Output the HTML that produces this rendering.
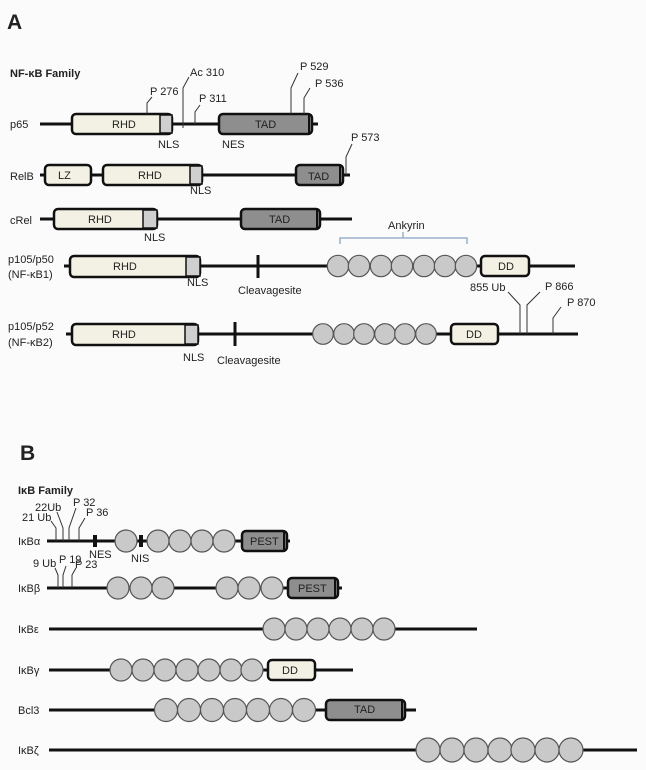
<!DOCTYPE html>
<html><head><meta charset="utf-8"><style>
html,body{margin:0;padding:0;background:#fbfbfb;}
svg{display:block;}
text{font-family:"Liberation Sans",sans-serif;font-size:11px;fill:#222;}
.b{font-weight:bold;}
.c{fill:#c9c9c9;stroke:#555;stroke-width:1.2;}
.ln{stroke:#111;stroke-width:3;}
.t{stroke:#333;stroke-width:1;fill:none;}
.cr{fill:#f3f1e4;stroke:#111;stroke-width:2.5;}
.gr{fill:#8e8e8e;stroke:#111;stroke-width:2.5;}
.nl{fill:#cfcfcf;stroke:#111;stroke-width:1.5;}
</style></head><body>
<svg width="646" height="770" viewBox="0 0 646 770" xmlns="http://www.w3.org/2000/svg">
<rect width="646" height="770" fill="#fbfbfb"/>
<text x="7" y="29" class="b" style="font-size:21px">A</text>
<text x="10" y="77" class="b" style="font-size:11px">NF-κB Family</text>

<!-- p65 -->
<text x="10" y="128">p65</text>
<line x1="40" y1="124" x2="318" y2="124" class="ln"/>
<rect x="72" y="114" width="100" height="20" rx="4" class="cr"/>
<rect x="160" y="115" width="12" height="18" class="nl"/>
<text x="112" y="128">RHD</text>
<rect x="219" y="114" width="93" height="20" rx="4" class="gr"/>
<text x="255" y="128">TAD</text>
<line x1="309" y1="115" x2="309" y2="133" stroke="#111" stroke-width="2"/>
<text x="158" y="148">NLS</text><text x="222" y="148">NES</text>
<path d="M147,114 V103 L152,97" class="t"/><text x="150" y="95">P 276</text>
<path d="M183,128 V88 L189,77" class="t"/><text x="190" y="76">Ac 310</text>
<path d="M195,124 V112 L200,105" class="t"/><text x="199" y="102">P 311</text>
<path d="M291,114 V88 L298,73" class="t"/><text x="300" y="70">P 529</text>
<path d="M304,114 V98 L310,88" class="t"/><text x="315" y="87">P 536</text>

<!-- RelB -->
<text x="10" y="180">RelB</text>
<line x1="40" y1="175" x2="350" y2="175" class="ln"/>
<rect x="45" y="165" width="46" height="20" rx="4" class="cr"/>
<text x="58" y="179">LZ</text>
<rect x="103" y="165" width="99" height="20" rx="4" class="cr"/>
<rect x="190" y="166" width="12" height="18" class="nl"/>
<text x="138" y="179">RHD</text>
<rect x="296" y="165" width="47" height="20" rx="4" class="gr"/>
<text x="308" y="180">TAD</text>
<line x1="340" y1="166" x2="340" y2="184" stroke="#111" stroke-width="2"/>
<text x="190" y="194">NLS</text>
<path d="M346,175 V157 L352,144" class="t"/><text x="351" y="141">P 573</text>

<!-- cRel -->
<text x="10" y="224">cRel</text>
<line x1="40" y1="219" x2="352" y2="219" class="ln"/>
<rect x="54" y="209" width="103" height="20" rx="4" class="cr"/>
<rect x="143" y="210" width="14" height="18" class="nl"/>
<text x="88" y="223">RHD</text>
<rect x="241" y="209" width="79" height="20" rx="4" class="gr"/>
<text x="269" y="223">TAD</text>
<line x1="317" y1="210" x2="317" y2="228" stroke="#111" stroke-width="2"/>
<text x="144" y="241">NLS</text>

<!-- Ankyrin -->
<text x="388" y="229">Ankyrin</text>
<path d="M340,244 V238 H403 V232 M403,238 H467 V244" fill="none" stroke="#8aa4c4" stroke-width="1.3"/>

<!-- p105/p50 -->
<text x="8" y="263">p105/p50</text>
<text x="8" y="278">(NF-κB1)</text>
<line x1="64" y1="266" x2="575" y2="266" class="ln"/>
<rect x="70" y="256" width="130" height="21" rx="4" class="cr"/>
<rect x="186" y="257" width="14" height="19" class="nl"/>
<text x="113" y="270">RHD</text>
<line x1="258" y1="255" x2="258" y2="278" stroke="#111" stroke-width="3"/>
<text x="238" y="294">Cleavagesite</text>
<text x="187" y="286">NLS</text>
<g class="c">
<circle cx="338" cy="266" r="10.7"/><circle cx="359" cy="266" r="10.7"/><circle cx="381" cy="266" r="10.7"/><circle cx="402" cy="266" r="10.7"/><circle cx="424" cy="266" r="10.7"/><circle cx="445" cy="266" r="10.7"/><circle cx="466" cy="266" r="10.7"/>
</g>
<rect x="481" y="256" width="48" height="20" rx="4" class="cr"/>
<text x="498" y="270">DD</text>

<!-- p105/p52 -->
<text x="8" y="330">p105/p52</text>
<text x="8" y="346">(NF-κB2)</text>
<line x1="66" y1="334" x2="578" y2="334" class="ln"/>
<rect x="72" y="324" width="126" height="21" rx="4" class="cr"/>
<rect x="185" y="325" width="13" height="19" class="nl"/>
<text x="112" y="338">RHD</text>
<line x1="235" y1="322" x2="235" y2="346" stroke="#111" stroke-width="3"/>
<text x="217" y="364">Cleavagesite</text>
<text x="183" y="361">NLS</text>
<g class="c">
<circle cx="323" cy="334" r="10.3"/><circle cx="344" cy="334" r="10.3"/><circle cx="364" cy="334" r="10.3"/><circle cx="385" cy="334" r="10.3"/><circle cx="405" cy="334" r="10.3"/><circle cx="426" cy="334" r="10.3"/>
</g>
<rect x="451" y="324" width="47" height="20" rx="4" class="cr"/>
<text x="466" y="338">DD</text>
<path d="M520,334 V305 L508,292" class="t"/>
<path d="M527,334 V305 L540,292" class="t"/>
<text x="470" y="291">855 Ub</text><text x="545" y="290">P 866</text>
<path d="M553,334 V318 L561,307" class="t"/><text x="567" y="306">P 870</text>

<!-- B -->
<text x="20" y="460" class="b" style="font-size:21px">B</text>
<text x="18" y="494" class="b" style="font-size:11px">IκB Family</text>

<!-- IkBa -->
<text x="18" y="545">IκBα</text>
<line x1="47" y1="541" x2="290" y2="541" class="ln"/>
<path d="M56,541 V528 L51,521" class="t"/>
<path d="M63,541 V528 L57,512" class="t"/>
<path d="M69,541 V528 L76,508" class="t"/>
<path d="M79,541 V528 L85,518" class="t"/>
<text x="22" y="521">21 Ub</text><text x="35" y="511">22Ub</text>
<text x="73" y="506">P 32</text><text x="86" y="516">P 36</text>
<rect x="93" y="535" width="4" height="12" fill="#111"/>
<rect x="139" y="535" width="4" height="12" fill="#111"/>
<g class="c">
<circle cx="126" cy="541" r="11"/><circle cx="158" cy="541" r="11"/><circle cx="180" cy="541" r="11"/><circle cx="202" cy="541" r="11"/><circle cx="224" cy="541" r="11"/>
</g>
<rect x="242" y="531" width="45" height="20" rx="4" class="gr"/>
<line x1="284" y1="532" x2="284" y2="550" stroke="#111" stroke-width="2"/>
<text x="250" y="545">PEST</text>
<text x="89" y="558">NES</text><text x="131" y="562">NIS</text>

<!-- IkBb -->
<text x="18" y="592">IκBβ</text>
<line x1="47" y1="588" x2="342" y2="588" class="ln"/>
<path d="M58,588 V575 L55,568" class="t"/>
<path d="M63,588 V575 L66,566" class="t"/>
<path d="M72,588 V575 L76,568" class="t"/>
<text x="33" y="567">9 Ub</text><text x="59" y="563">P 19</text><text x="75" y="568">P 23</text>
<g class="c">
<circle cx="118" cy="588" r="11"/><circle cx="141" cy="588" r="11"/><circle cx="163" cy="588" r="11"/>
<circle cx="227" cy="588" r="11"/><circle cx="249" cy="588" r="11"/><circle cx="272" cy="588" r="11"/>
</g>
<rect x="288" y="578" width="50" height="20" rx="4" class="gr"/>
<line x1="335" y1="579" x2="335" y2="597" stroke="#111" stroke-width="2"/>
<text x="298" y="592">PEST</text>

<!-- IkBe -->
<text x="18" y="633">IκBε</text>
<line x1="49" y1="629" x2="477" y2="629" class="ln"/>
<g class="c">
<circle cx="274" cy="629" r="11"/><circle cx="296" cy="629" r="11"/><circle cx="318" cy="629" r="11"/><circle cx="340" cy="629" r="11"/><circle cx="362" cy="629" r="11"/><circle cx="384" cy="629" r="11"/>
</g>

<!-- IkBg -->
<text x="18" y="674">IκBγ</text>
<line x1="49" y1="670" x2="353" y2="670" class="ln"/>
<g class="c">
<circle cx="121" cy="670" r="11"/><circle cx="143" cy="670" r="11"/><circle cx="165" cy="670" r="11"/><circle cx="187" cy="670" r="11"/><circle cx="209" cy="670" r="11"/><circle cx="231" cy="670" r="11"/><circle cx="252" cy="670" r="11"/>
</g>
<rect x="268" y="660" width="47" height="20" rx="4" class="cr"/>
<text x="282" y="674">DD</text>

<!-- Bcl3 -->
<text x="18" y="714">Bcl3</text>
<line x1="49" y1="710" x2="416" y2="710" class="ln"/>
<g class="c">
<circle cx="166" cy="710" r="11.5"/><circle cx="189" cy="710" r="11.5"/><circle cx="212" cy="710" r="11.5"/><circle cx="235" cy="710" r="11.5"/><circle cx="258" cy="710" r="11.5"/><circle cx="281" cy="710" r="11.5"/><circle cx="304" cy="710" r="11.5"/>
</g>
<rect x="326" y="700" width="79" height="20" rx="4" class="gr"/>
<line x1="402" y1="701" x2="402" y2="719" stroke="#111" stroke-width="2"/>
<text x="354" y="713">TAD</text>

<!-- IkBz -->
<text x="18" y="754">IκBζ</text>
<line x1="49" y1="750" x2="637" y2="750" class="ln"/>
<g class="c">
<circle cx="428" cy="750" r="12"/><circle cx="452" cy="750" r="12"/><circle cx="476" cy="750" r="12"/><circle cx="500" cy="750" r="12"/><circle cx="523" cy="750" r="12"/><circle cx="547" cy="750" r="12"/><circle cx="571" cy="750" r="12"/>
</g>
</svg>
</body></html>
